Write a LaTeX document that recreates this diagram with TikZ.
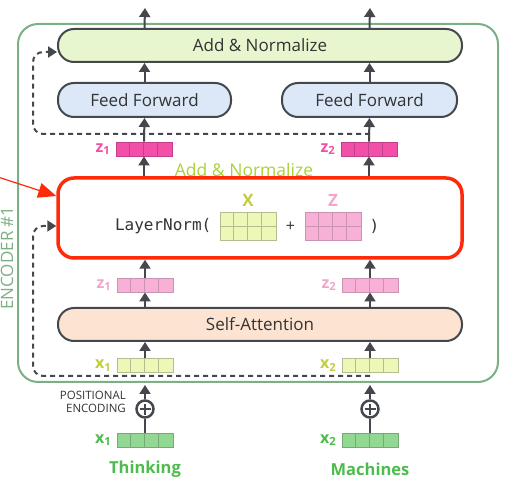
\documentclass[tikz,border=0pt]{standalone}
\usepackage{fontspec}
\setmainfont{Open Sans}
\setmonofont{DejaVu Sans Mono}
\usetikzlibrary{positioning}
\usetikzlibrary{arrows.meta}

\definecolor{darkline}{HTML}{44484C}
\definecolor{textgray}{HTML}{333333}
\definecolor{encgreen}{HTML}{7DAF85}
\definecolor{addfill}{HTML}{E8F6D0}
\definecolor{fffill}{HTML}{DCE8F8}
\definecolor{safill}{HTML}{FDE3D2}
\definecolor{hotpink}{HTML}{F24FA8}
\definecolor{hotpinkline}{HTML}{C2408A}
\definecolor{lightpink}{HTML}{F8B0D6}
\definecolor{lightpinkline}{HTML}{C994B2}
\definecolor{pinklabel}{HTML}{F2A6CB}
\definecolor{lightlime}{HTML}{EEF8B6}
\definecolor{limeline}{HTML}{B4BC92}
\definecolor{limelabel}{HTML}{C4CC3C}
\definecolor{midgreen}{HTML}{92D892}
\definecolor{midgreenline}{HTML}{74AA74}
\definecolor{wordgreen}{HTML}{4DBB4D}
\definecolor{addgreen}{HTML}{A8D238}
\definecolor{annotred}{HTML}{FF2A0A}

% one vector (or 2-row matrix) of 14pt cells: name, x, y, rows, style
\newcommand{\vecgrid}[5]{%
  \node[cellbox,#5,minimum height=#4*14pt] (#1) at (#2,#3) {};
  \foreach \col in {1,2,3}
    \draw[cellline,#5] ([xshift=\col*14pt]#1.south west) -- ([xshift=\col*14pt]#1.north west);
  \ifnum#4=2 \draw[cellline,#5] (#1.west) -- (#1.east);\fi
}

\begin{document}
\begin{tikzpicture}[x=1pt,y=-1pt]
\tikzset{
  layer/.style={rectangle,rounded corners=16pt,draw=darkline,line width=2pt,text=textgray,font=\fontsize{17}{20}\selectfont,minimum height=33pt},
  cellbox/.style={rectangle,draw,line width=0.9pt,minimum width=56pt,minimum height=14pt,inner sep=0pt},
  cellline/.style={line width=0.9pt},
  zhot/.style={fill=hotpink,draw=hotpinkline},
  zlight/.style={fill=lightpink,draw=lightpinkline},
  xlime/.style={fill=lightlime,draw=limeline},
  xgreen/.style={fill=midgreen,draw=midgreenline},
  vlabel/.style={font=\bfseries\fontsize{16}{17}\selectfont,inner sep=0pt},
  mono/.style={font=\ttfamily\fontsize{16}{18}\selectfont,text=textgray,inner sep=0pt},
  arrow/.style={-{Triangle[length=9pt,width=11pt]},line width=2pt,draw=darkline},
  residual/.style={arrow,dash pattern=on 5pt off 4pt,rounded corners=10pt},
  word/.style={font=\bfseries\fontsize{16.5}{18}\selectfont,text=wordgreen},
}
\useasboundingbox (0,0) rectangle (515,484);
%
\node[rectangle,draw=encgreen,line width=2pt,rounded corners=20pt,minimum width=480pt,minimum height=358pt] (enc) at (258,203) {};
\node[rotate=90,text=encgreen,font=\fontsize{17}{19}\selectfont] (enclabel) at (7,258) {ENCODER \#1};
%
\node[layer,fill=addfill,minimum width=404pt] (addnorm) at (260,45.5) {Add \& Normalize};
\node[layer,fill=fffill,minimum width=173pt,minimum height=34pt] (ff1) at (144.5,100) {Feed Forward};
\node[layer,fill=fffill,minimum width=175pt,minimum height=34pt] (ff2) at (369.5,100) {Feed Forward};
\node[layer,draw=annotred,line width=3.5pt,fill=white,minimum width=404pt,minimum height=80pt] (ln) at (260,218) {};
\node[layer,fill=safill,minimum width=404pt] (sa) at (260,324.5) {Self-Attention};
\node[font=\fontsize{17.5}{20}\selectfont,text=addgreen] (lnlabel) at (244,170) {Add \& Normalize};
%
\vecgrid{z1top}{144}{149}{1}{zhot}
\vecgrid{z2top}{369}{149}{1}{zhot}
\vecgrid{z1}{145}{285}{1}{zlight}
\vecgrid{z2}{370}{285}{1}{zlight}
\vecgrid{x1}{145}{365.5}{1}{xlime}
\vecgrid{x2}{370}{365.5}{1}{xlime}
\vecgrid{x1in}{145}{440}{1}{xgreen}
\vecgrid{x2in}{370}{440}{1}{xgreen}
%
\node[vlabel,text=hotpink,left=5pt of z1top] (z1toplab) {z\textsubscript{1}};
\node[vlabel,text=hotpink,left=5pt of z2top] (z2toplab) {z\textsubscript{2}};
\node[vlabel,text=pinklabel,left=5pt of z1] (z1lab) {z\textsubscript{1}};
\node[vlabel,text=pinklabel,left=5pt of z2] (z2lab) {z\textsubscript{2}};
\node[vlabel,text=limelabel,left=5pt of x1] (x1lab) {x\textsubscript{1}};
\node[vlabel,text=limelabel,left=5pt of x2] (x2lab) {x\textsubscript{2}};
\node[vlabel,text=wordgreen,left=5pt of x1in] (x1inlab) {x\textsubscript{1}};
\node[vlabel,text=wordgreen,left=5pt of x2in] (x2inlab) {x\textsubscript{2}};
%
\vecgrid{xmat}{248}{226}{2}{xlime}
\vecgrid{zmat}{333}{226}{2}{zlight}
\node[mono,left=8pt of xmat] (lnname) {LayerNorm(};
\node[font=\fontsize{16}{18}\selectfont,text=textgray] (plus) at (290.5,227) {+};
\node[mono,right=8pt of zmat] (lnclose) {)};
\node[vlabel,text=limelabel,above=5pt of xmat,font=\bfseries\fontsize{17}{18}\selectfont] (xname) {X};
\node[vlabel,text=pinklabel,above=5pt of zmat,font=\bfseries\fontsize{17}{18}\selectfont] (zname) {Z};
%
\node[circle,draw=darkline,line width=2.5pt,minimum size=17pt,inner sep=0pt] (pe1) at (145,409) {};
\node[circle,draw=darkline,line width=2.5pt,minimum size=17pt,inner sep=0pt] (pe2) at (370,409) {};
\foreach \pe in {pe1,pe2}
  \draw[darkline,line width=2.5pt] ([yshift=5.5pt]\pe.center) -- ([yshift=-5.5pt]\pe.center) ([xshift=-5.5pt]\pe.center) -- ([xshift=5.5pt]\pe.center);
\node[font=\fontsize{11.5}{12.5}\selectfont,text=textgray,align=right,anchor=east,inner sep=0pt] (pelabel) at (126,402) {POSITIONAL\\ENCODING};
\node[word] (word1) at (145,469) {Thinking};
\node[word] (word2) at (370,469) {Machines};
%
\coordinate (res1) at (370,376);
\coordinate (res2) at (370,134);
\path[residual] (res1) -- (33,376) -- (33,226) -- (ln.west |- 0,226);
\path[residual] (res2) -- (33,134) -- (33,52) -- (addnorm.west |- 0,52);
%
\coordinate (out1) at (145,8);
\coordinate (out2) at (370,8);
\path[arrow] (ff1 |- addnorm.north) -- (out1);
\path[arrow] (ff2 |- addnorm.north) -- (out2);
\path[arrow] (ff1.north) -- (ff1 |- addnorm.south);
\path[arrow] (ff2.north) -- (ff2 |- addnorm.south);
\path[arrow] (z1top.north) -- (ff1.south);
\path[arrow] (z2top.north) -- (ff2.south);
\path[arrow] (z1top |- ln.north) -- (z1top.south);
\path[arrow] (z2top |- ln.north) -- (z2top.south);
\path[arrow] (z1.north) -- (z1 |- ln.south);
\path[arrow] (z2.north) -- (z2 |- ln.south);
\path[arrow] (z1 |- sa.north) -- (z1.south);
\path[arrow] (z2 |- sa.north) -- (z2.south);
\path[arrow] (x1.north) -- (x1 |- sa.south);
\path[arrow] (x2.north) -- (x2 |- sa.south);
\path[arrow,shorten >=2pt] (pe1.north) -- (pe1 |- enc.south);
\path[arrow,shorten >=2pt] (pe2.north) -- (pe2 |- enc.south);
\draw[darkline,line width=2pt] (x1in.north) -- (pe1.south);
\draw[darkline,line width=2pt] (x2in.north) -- (pe2.south);
%
\coordinate (redtail) at (-2,177);
\draw[annotred,line width=1.2pt,-{Triangle[length=18pt,width=15pt]}] (redtail) -- ([yshift=22pt]ln.west);
\end{tikzpicture}
\end{document}
